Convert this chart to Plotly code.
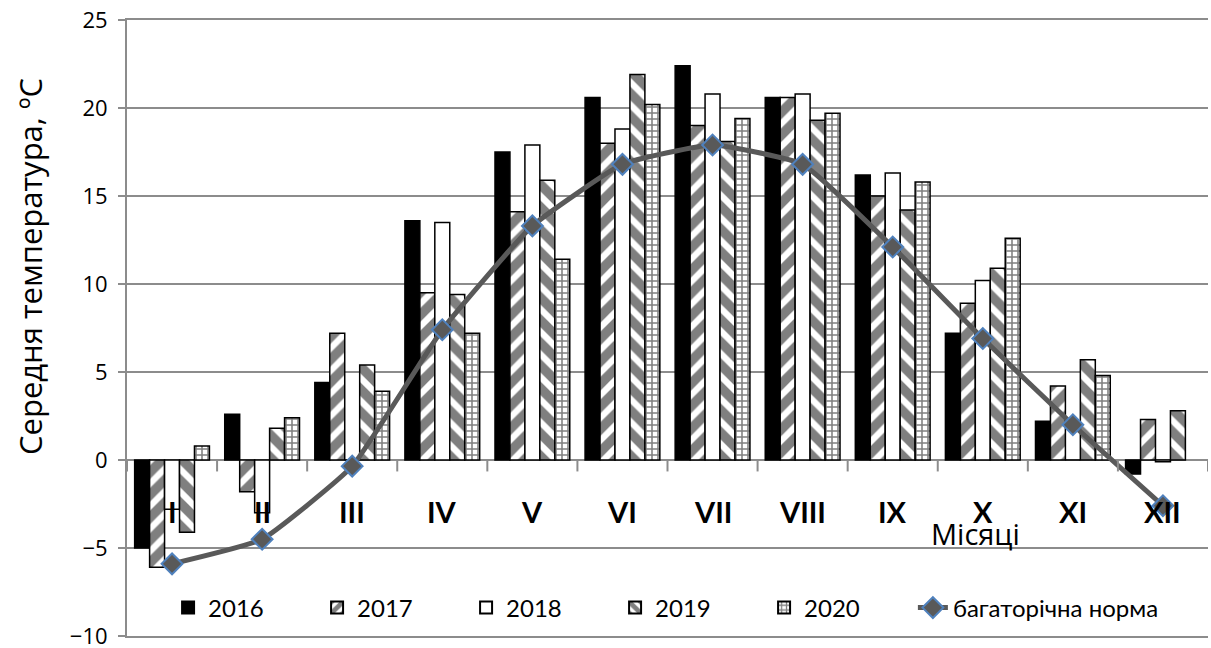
import plotly.graph_objects as go

# Monthly mean air temperature by year, with the long-term norm
months = ["I", "II", "III", "IV", "V", "VI", "VII", "VIII", "IX", "X", "XI", "XII"]
years = ["2016", "2017", "2018", "2019", "2020"]

t2016 = [-5.0, 2.6, 4.4, 13.6, 17.5, 20.6, 22.4, 20.6, 16.2, 7.2, 2.2, -0.8]
t2017 = [-6.1, -1.8, 7.2, 9.5, 14.1, 18.0, 19.0, 20.6, 15.0, 8.9, 4.2, 2.3]
t2018 = [-2.8, -3.0, 0.0, 13.5, 17.9, 18.8, 20.8, 20.8, 16.3, 10.2, 0.0, -0.1]
t2019 = [-4.1, 1.8, 5.4, 9.4, 15.9, 21.9, 18.1, 19.3, 14.2, 10.9, 5.7, 2.8]
t2020 = [0.8, 2.4, 3.9, 7.2, 11.4, 20.2, 19.4, 19.7, 15.8, 12.6, 4.8, None]
norm = [-5.9, -4.5, -0.35, 7.4, 13.3, 16.8, 17.9, 16.8, 12.1, 6.9, 2.0, -2.6]

series = [t2016, t2017, t2018, t2019, t2020]
norm_name = "багаторічна норма"
y_title = "Середня температура, ºC"
x_title = "Місяці"
y_ticks = [-10, -5, 0, 5, 10, 15, 20, 25]

fills = [
    dict(color="black"),
    dict(color="white", pattern=dict(shape="/", fgcolor="black", bgcolor="white", size=16, solidity=0.6)),
    dict(color="white"),
    dict(color="white", pattern=dict(shape="\\", fgcolor="black", bgcolor="white", size=16, solidity=0.6)),
    dict(color="white", pattern=dict(shape="+", fgcolor="black", bgcolor="white", size=6, solidity=0.45)),
]

GRID = "#8c8c8c"
LEG_FONT = dict(family="Liberation Sans Narrow, Lato, Noto Sans", size=24, color="black")
LEG_Y = (636 - 608) / 616

fig = go.Figure()
x_idx = list(range(len(months)))

for name, vals, fill in zip(years, series, fills):
    fig.add_trace(go.Bar(
        x=x_idx, y=vals, name=name, legend="legend",
        marker=dict(**fill, line=dict(color="black", width=1.5)),
    ))

fig.add_trace(go.Scatter(
    x=x_idx, y=norm, name=norm_name, mode="lines+markers", legend="legend2",
    line=dict(color="#595959", width=5, shape="spline", smoothing=0.4),
    marker=dict(symbol="diamond", size=16, color="#595959",
                line=dict(color="#4f81bd", width=2)),
))

# category boundary ticks on the zero line
shapes = []
for b in range(len(months) + 1):
    shapes.append(dict(type="line", xref="x", yref="y",
                       x0=b - 0.5, x1=b - 0.5, y0=0, y1=-0.65,
                       line=dict(color=GRID, width=2)))

annotations = []
for i, m in enumerate(months):
    annotations.append(dict(x=i, y=-2.9, xref="x", yref="y", text=m, showarrow=False,
                            font=dict(family="Liberation Sans Narrow, Lato, Noto Sans",
                                      size=29, color="black", weight="bold")))
annotations.append(dict(x=(1022 - 127) / 1081, y=-4.2, xref="paper", yref="y",
                        text=x_title, showarrow=False,
                        font=dict(family="Open Sans, Noto Sans", size=29, color="black")))
annotations.append(dict(x=(30 - 127) / 1081, y=(636 - 267) / 616, xref="paper", yref="paper",
                        text=y_title, textangle=-90, showarrow=False,
                        xanchor="center", yanchor="middle",
                        font=dict(family="Open Sans, Noto Sans", size=31, color="black")))

fig.update_layout(
    width=1211, height=648,
    margin=dict(l=127, r=3, t=20, b=12, autoexpand=False),
    paper_bgcolor="white", plot_bgcolor="white",
    barmode="group", bargap=0.17, bargroupgap=0,
    shapes=shapes, annotations=annotations,
    showlegend=True,
    legend=dict(orientation="h", x=0.038, y=LEG_Y,
                xanchor="left", yanchor="middle",
                font=LEG_FONT, bgcolor="rgba(255,255,255,0)",
                entrywidth=104, entrywidthmode="pixels",
                itemsizing="constant", traceorder="normal"),
    legend2=dict(orientation="h", x=0.727, y=LEG_Y,
                 xanchor="left", yanchor="middle",
                 font=LEG_FONT, bgcolor="rgba(255,255,255,0)"),
    xaxis=dict(range=[-0.5, len(months) - 0.5], showticklabels=False, ticks="",
               showgrid=False, zeroline=False, showline=True, mirror=True,
               linecolor=GRID, linewidth=2, automargin=False),
    yaxis=dict(range=[-10, 25], tickvals=y_ticks, showgrid=True, gridcolor=GRID, gridwidth=2,
               zeroline=True, zerolinecolor=GRID, zerolinewidth=2,
               showline=True, linecolor=GRID, linewidth=2,
               ticks="outside", ticklen=7, tickcolor=GRID, tickwidth=2,
               ticklabelstandoff=6, ticklabeloverflow="allow", automargin=False,
               tickfont=dict(family="Open Sans, Noto Sans", size=22, color="black")),
)

fig.write_html("out.html")
